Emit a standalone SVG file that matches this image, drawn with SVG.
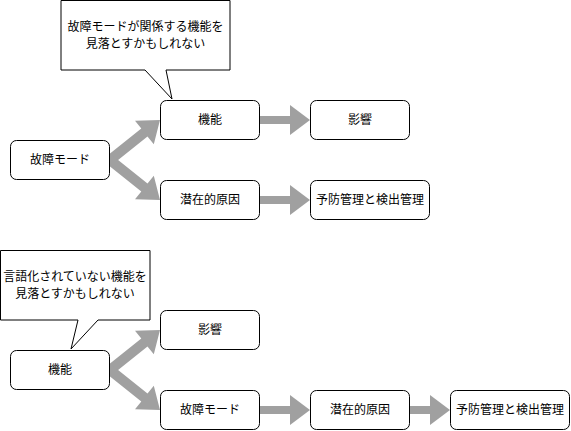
<svg xmlns="http://www.w3.org/2000/svg" width="571" height="431" viewBox="0 0 571 431">
<style>
.box{fill:#fff;stroke:#000;stroke-width:1}
.arr{fill:#a0a0a0;stroke:none}
text{font-family:"Noto Sans CJK JP","Noto Sans",sans-serif;font-size:12px;fill:#000;text-anchor:middle}
</style>
<rect width="571" height="431" fill="#fff"/>
<g id="connectors">
<polygon class="arr" points="113.1,163.9 106.9,156.1 141.3,128.6 135,120.8 160,120 153.8,144.2 147.5,136.4"/>
<polygon class="arr" points="106.9,163.9 113.1,156.1 147.5,183.6 153.8,175.8 160,200 135,199.2 141.3,191.4"/>
<polygon class="arr" points="260,116 290,116 290,105 310,120 290,135 290,124 260,124"/>
<polygon class="arr" points="260,196 290,196 290,185 310,200 290,215 290,204 260,204"/>
<polygon class="arr" points="113.1,373.9 106.9,366.1 141.3,338.6 135,330.8 160,330 153.8,354.2 147.5,346.4"/>
<polygon class="arr" points="106.9,373.9 113.1,366.1 147.5,393.6 153.8,385.8 160,410 135,409.2 141.3,401.4"/>
<polygon class="arr" points="260,406 290,406 290,395 310,410 290,425 290,414 260,414"/>
<polygon class="arr" points="410,406 430,406 430,395 450,410 430,425 430,414 410,414"/>
</g>
<g id="callout1">
<path class="box" d="M61,0.5 H230 V70 H166 L172,99 L145,70 H61 Z"/>
<text x="145.5" y="30.5">故障モードが関係する機能を<tspan x="145.5" dy="17.5">見落とすかもしれない</tspan></text>
</g>
<g id="n1-func"><rect class="box" x="160.5" y="100.5" width="99" height="39" rx="6"/><text x="210" y="124">機能</text></g>
<g id="n1-fm"><rect class="box" x="10.5" y="140.5" width="99" height="39" rx="6"/><text x="60" y="164">故障モード</text></g>
<g id="n1-cause"><rect class="box" x="160.5" y="180.5" width="99" height="39" rx="6"/><text x="210" y="204">潜在的原因</text></g>
<g id="n1-effect"><rect class="box" x="310.5" y="100.5" width="99" height="39" rx="6"/><text x="360" y="124">影響</text></g>
<g id="n1-ctrl"><rect class="box" x="310.5" y="180.5" width="119" height="39" rx="6"/><text x="370" y="204">予防管理と検出管理</text></g>
<g id="callout2">
<path class="box" d="M0.5,250.5 H150 V320 H98 L71,349 L78,320 H0.5 Z"/>
<text x="75" y="280.5">言語化されていない機能を<tspan x="75" dy="17.5">見落とすかもしれない</tspan></text>
</g>
<g id="n2-func"><rect class="box" x="10.5" y="350.5" width="99" height="39" rx="6"/><text x="60" y="374">機能</text></g>
<g id="n2-effect"><rect class="box" x="160.5" y="310.5" width="99" height="39" rx="6"/><text x="210" y="334">影響</text></g>
<g id="n2-fm"><rect class="box" x="160.5" y="390.5" width="99" height="39" rx="6"/><text x="210" y="414">故障モード</text></g>
<g id="n2-cause"><rect class="box" x="310.5" y="390.5" width="99" height="39" rx="6"/><text x="360" y="414">潜在的原因</text></g>
<g id="n2-ctrl"><rect class="box" x="450.5" y="390.5" width="119" height="39" rx="6"/><text x="510" y="414">予防管理と検出管理</text></g>
</svg>
